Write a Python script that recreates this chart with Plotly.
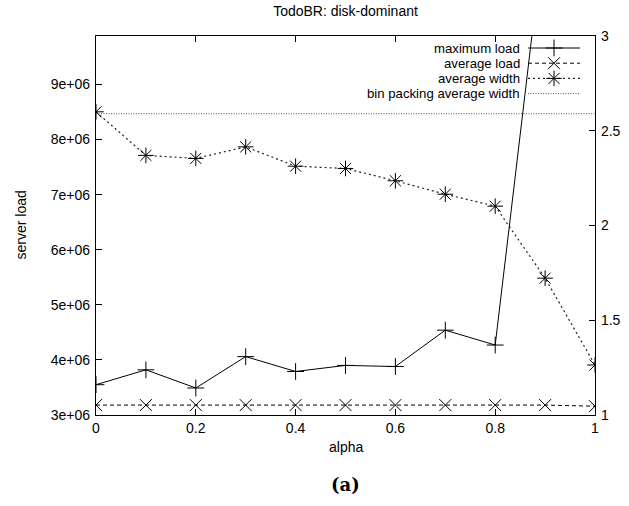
import plotly.graph_objects as go

alpha = [0, 0.1, 0.2, 0.3, 0.4, 0.5, 0.6, 0.7, 0.8, 0.9, 1.0]
max_load = [3.55e6, 3.82e6, 3.49e6, 4.06e6, 3.79e6, 3.90e6, 3.88e6, 4.54e6, 4.27e6, 1.19e7, 1.6e7]
avg_load = [3.18e6, 3.18e6, 3.18e6, 3.18e6, 3.18e6, 3.18e6, 3.18e6, 3.18e6, 3.18e6, 3.18e6, 3.16e6]
avg_width = [2.60, 2.37, 2.354, 2.415, 2.313, 2.301, 2.236, 2.165, 2.102, 1.722, 1.264]
bin_width = [2.59] * len(alpha)

names = ["maximum load", "average load", "average width", "bin packing average width"]
y_ticks = [3e6, 4e6, 5e6, 6e6, 7e6, 8e6, 9e6]
y_ticktext = ["3e+06", "4e+06", "5e+06", "6e+06", "7e+06", "8e+06", "9e+06"]
y2_ticks = [1, 1.5, 2, 2.5, 3]
y2_ticktext = ["1", "1.5", "2", "2.5", "3"]
x_ticks = [0, 0.2, 0.4, 0.6, 0.8, 1]
x_ticktext = ["0", "0.2", "0.4", "0.6", "0.8", "1"]

W, H = 629, 506
ML, MR, MT, MB = 96, 34, 36, 91
PW, PH = W - ML - MR, H - MT - MB
FONT = "Liberation Sans, Arial, Helvetica, sans-serif"
FS = 14

styles = [
    dict(line=dict(color="black", width=1),
         marker=dict(symbol="cross-thin-open", size=12, color="black", line=dict(color="black", width=1))),
    dict(line=dict(color="black", width=1, dash="4px,3px"),
         marker=dict(symbol="x-thin-open", size=12, color="black", line=dict(color="black", width=1))),
    dict(line=dict(color="#222", width=1.2, dash="2px,3px"),
         marker=dict(symbol="asterisk-open", size=13, color="black", line=dict(color="black", width=1))),
    dict(line=dict(color="#555", width=1, dash="1px,1.5px"), marker=None),
]

fig = go.Figure()
fig.add_trace(go.Scatter(x=alpha, y=max_load, mode="lines+markers", name=names[0],
                         xaxis="x", yaxis="y", **styles[0]))
fig.add_trace(go.Scatter(x=alpha, y=avg_load, mode="lines+markers", name=names[1],
                         xaxis="x", yaxis="y", **styles[1]))
fig.add_trace(go.Scatter(x=alpha, y=avg_width, mode="lines+markers", name=names[2],
                         xaxis="x", yaxis="y2", **styles[2]))
fig.add_trace(go.Scatter(x=alpha, y=bin_width, mode="lines", name=names[3],
                         xaxis="x", yaxis="y2", line=styles[3]["line"]))

# custom gnuplot-style legend (text right-aligned, key sample on the right)
rows_px = [48.0, 63.2, 78.4, 93.6]
kx0, kx1, kxm = (528 - ML) / PW, (580 - ML) / PW, (554 - ML) / PW
annotations = []
for i, nm in enumerate(names):
    fy = (MT + PH - rows_px[i]) / PH
    st = styles[i]
    fig.add_trace(go.Scatter(x=[kx0, kx1], y=[fy, fy], mode="lines", line=st["line"],
                             xaxis="x3", yaxis="y3", showlegend=False, hoverinfo="skip"))
    if st["marker"] is not None:
        fig.add_trace(go.Scatter(x=[kxm], y=[fy], mode="markers", marker=st["marker"],
                                 xaxis="x3", yaxis="y3", showlegend=False, hoverinfo="skip"))
    annotations.append(dict(x=(521 - ML) / PW, y=fy, xref="paper", yref="paper", text=nm,
                            showarrow=False, xanchor="right", yanchor="middle",
                            borderpad=0,
                            font=dict(family=FONT, size=13.2, color="black")))

annotations += [
    dict(x=0.5, y=-(447 - MT - PH) / PH, xref="paper", yref="paper", text="alpha",
         showarrow=False, xanchor="center", yanchor="middle",
         font=dict(family=FONT, size=FS, color="black")),
    dict(x=(20 - ML) / PW, y=0.5, xref="paper", yref="paper", text="server load",
         showarrow=False, textangle=-90, xanchor="center", yanchor="middle",
         font=dict(family=FONT, size=FS, color="black")),
    dict(x=0.5, y=-(484 - MT - PH) / PH, xref="paper", yref="paper", text="<b>(a)</b>",
         showarrow=False, xanchor="center", yanchor="middle",
         font=dict(family="DejaVu Serif, serif", size=18, color="black")),
]

axis_common = dict(showgrid=False, zeroline=False, ticks="inside", ticklen=6,
                   tickwidth=1, tickcolor="black", linecolor="black", linewidth=1.2,
                   showline=True, automargin=False,
                   tickfont=dict(family=FONT, size=FS, color="black"))

fig.update_layout(
    width=W, height=H,
    margin=dict(l=ML, r=MR, t=MT, b=MB, autoexpand=False),
    paper_bgcolor="white", plot_bgcolor="white",
    showlegend=False,
    title=dict(text="TodoBR: disk-dominant", x=(ML + PW / 2) / W, xanchor="center",
               y=1 - 11 / H, yanchor="middle", yref="container",
               font=dict(family=FONT, size=FS, color="black")),
    xaxis=dict(range=[0, 1], tickvals=x_ticks, ticktext=x_ticktext, mirror="ticks",
               ticklabelstandoff=0, **axis_common),
    yaxis=dict(range=[3e6, 9.88e6], tickvals=y_ticks, ticktext=y_ticktext,
               ticklabelstandoff=2, **axis_common),
    yaxis2=dict(range=[1, 3], tickvals=y2_ticks, ticktext=y2_ticktext, overlaying="y",
                side="right", anchor="x", ticklabelstandoff=2, **axis_common),
    xaxis3=dict(range=[0, 1], visible=False, overlaying="x", anchor="y3"),
    yaxis3=dict(range=[0, 1], visible=False, overlaying="y", anchor="x3"),
    annotations=annotations,
)

fig.write_html("out.html", config={"displayModeBar": False},
               post_script="document.body.style.margin='0';document.body.style.overflow='hidden';")
